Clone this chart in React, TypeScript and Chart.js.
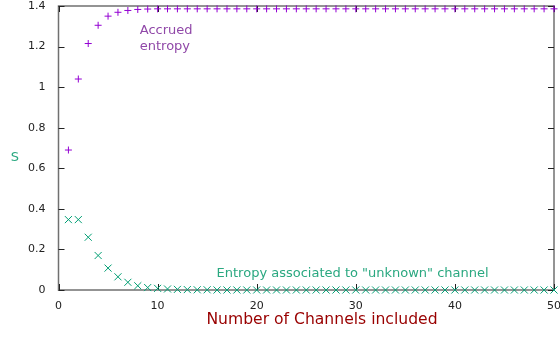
import React, { useEffect, useRef } from "react";
import { Chart, registerables } from "chart.js";

Chart.register(...registerables);

const channels = [
  1, 2, 3, 4, 5, 6, 7, 8, 9, 10, 11, 12, 13, 14, 15, 16, 17, 18, 19, 20, 21, 22, 23, 24, 25,
  26, 27, 28, 29, 30, 31, 32, 33, 34, 35, 36, 37, 38, 39, 40, 41, 42, 43, 44, 45, 46, 47, 48, 49, 50,
];

const accruedEntropy = [
  0.69, 1.04, 1.215, 1.305, 1.35, 1.369, 1.378, 1.383, 1.385, 1.386, 1.386, 1.386, 1.386, 1.386, 1.386,
  1.386, 1.386, 1.386, 1.386, 1.386, 1.386, 1.386, 1.386, 1.386, 1.386, 1.386, 1.386, 1.386, 1.386, 1.386,
  1.386, 1.386, 1.386, 1.386, 1.386, 1.386, 1.386, 1.386, 1.386, 1.386, 1.386, 1.386, 1.386, 1.386, 1.386,
  1.386, 1.386, 1.386, 1.386, 1.386,
];

const unknownEntropy = [
  0.347, 0.347, 0.26, 0.17, 0.108, 0.065, 0.038, 0.021, 0.012, 0.008, 0.005, 0.003, 0.002, 0.001, 0.001,
  0, 0, 0, 0, 0, 0, 0, 0, 0, 0, 0, 0, 0, 0, 0,
  0, 0, 0, 0, 0, 0, 0, 0, 0, 0, 0, 0, 0, 0, 0,
  0, 0, 0, 0, 0,
];

const xTicks = [0, 10, 20, 30, 40, 50];
const yTicks = [0, 0.2, 0.4, 0.6, 0.8, 1, 1.2, 1.4];

const xTitle = "Number of Channels included";
const yTitle = "S";
const accruedLabelLines = ["Accrued", "entropy"];
const accruedLabelAt = { x: 8.2, y: 1.24 };
const unknownLabel = 'Entropy associated to "unknown" channel';
const unknownLabelAt = { x: 15.95, y: 0.08 };

const FONT = "'DejaVu Sans', sans-serif";
const PURPLE = "#9400d3";
const GREEN = "#009e73";

const decorPlugin = {
  id: "decor",
  beforeDatasetsDraw(chart: any) {
    const { ctx, chartArea: a, scales } = chart;
    ctx.save();
    // frame
    ctx.strokeStyle = "#707070";
    ctx.lineWidth = 1.5;
    ctx.strokeRect(a.left, a.top, a.right - a.left, a.bottom - a.top);
    // inward ticks (mirrored)
    ctx.strokeStyle = "#222";
    ctx.lineWidth = 1;
    ctx.beginPath();
    yTicks.forEach((v) => {
      const y = Math.round(scales.y.getPixelForValue(v)) + 0.5;
      ctx.moveTo(a.left, y);
      ctx.lineTo(a.left + 6, y);
      ctx.moveTo(a.right, y);
      ctx.lineTo(a.right - 6, y);
    });
    xTicks.forEach((v) => {
      const x = Math.round(scales.x.getPixelForValue(v)) + 0.5;
      ctx.moveTo(x, a.bottom);
      ctx.lineTo(x, a.bottom - 6);
      ctx.moveTo(x, a.top);
      ctx.lineTo(x, a.top + 6);
    });
    ctx.stroke();
    ctx.restore();
  },
  afterDatasetsDraw(chart: any) {
    const { ctx, chartArea: a, scales } = chart;
    ctx.save();
    ctx.font = `13px ${FONT}`;
    ctx.textAlign = "left";
    ctx.textBaseline = "middle";
    ctx.fillStyle = "#9048a8";
    const ax = scales.x.getPixelForValue(accruedLabelAt.x);
    const ay = scales.y.getPixelForValue(accruedLabelAt.y);
    accruedLabelLines.forEach((line, i) => {
      ctx.fillText(line, ax, ay + (i - 0.5) * 16);
    });
    ctx.fillStyle = "#2aa880";
    ctx.fillText(
      unknownLabel,
      scales.x.getPixelForValue(unknownLabelAt.x),
      scales.y.getPixelForValue(unknownLabelAt.y)
    );
    // y title (not rotated)
    ctx.font = `13px ${FONT}`;
    ctx.textAlign = "center";
    ctx.fillStyle = "#2aa880";
    ctx.fillText(yTitle, 15, (a.top + a.bottom) / 2 + 10);
    // x title
    ctx.font = `15.6px ${FONT}`;
    ctx.fillStyle = "#990000";
    ctx.fillText(xTitle, 322, a.bottom + 30);
    ctx.restore();
  },
};

export default function App() {
  const ref = useRef<HTMLCanvasElement | null>(null);

  useEffect(() => {
    if (!ref.current) return;
    const chart = new Chart(ref.current, {
      type: "scatter",
      data: {
        datasets: [
          {
            label: "Accrued entropy",
            data: channels.map((c, i) => ({ x: c, y: accruedEntropy[i] })),
            pointStyle: "cross",
            pointRadius: 3.5,
            pointBorderWidth: 1,
            borderColor: PURPLE,
            backgroundColor: PURPLE,
            showLine: false,
            clip: false as any,
          },
          {
            label: "Unknown channel",
            data: channels.map((c, i) => ({ x: c, y: unknownEntropy[i] })),
            pointStyle: "crossRot",
            pointRadius: 5,
            pointBorderWidth: 1,
            borderColor: GREEN,
            backgroundColor: GREEN,
            showLine: false,
            clip: false as any,
          },
        ],
      },
      options: {
        responsive: false,
        animation: false,
        events: [],
        layout: { padding: 0 },
        plugins: {
          legend: { display: false },
          tooltip: { enabled: false },
        },
        scales: {
          x: {
            type: "linear",
            min: 0,
            max: 50,
            grid: { display: false },
            border: { display: false },
            afterBuildTicks: (s: any) => {
              s.ticks = xTicks.map((v) => ({ value: v }));
            },
            ticks: {
              padding: 2,
              color: "#222",
              font: { family: FONT, size: 11 },
              maxRotation: 0,
              callback: (v: any) => String(v),
            },
            afterFit: (s: any) => {
              s.height = 48;
              s.paddingRight = 3;
              s.paddingLeft = 0;
            },
          },
          y: {
            type: "linear",
            min: 0,
            max: 1.4,
            grid: { display: false },
            border: { display: false },
            afterBuildTicks: (s: any) => {
              s.ticks = yTicks.map((v) => ({ value: v }));
            },
            ticks: {
              padding: 5,
              color: "#222",
              font: { family: FONT, size: 11 },
              callback: (v: any) => String(Number(Number(v).toFixed(1))),
            },
            afterFit: (s: any) => {
              s.width = 58.5;
              s.paddingTop = 5;
              s.paddingBottom = 0;
            },
          },
        },
      },
      plugins: [decorPlugin],
    });
    return () => chart.destroy();
  }, []);

  return (
    <div style={{ position: "absolute", left: 0, top: 0, width: 560, height: 338, overflow: "hidden", background: "#fff" }}>
      <canvas ref={ref} width={560} height={338} style={{ display: "block" }} />
    </div>
  );
}
